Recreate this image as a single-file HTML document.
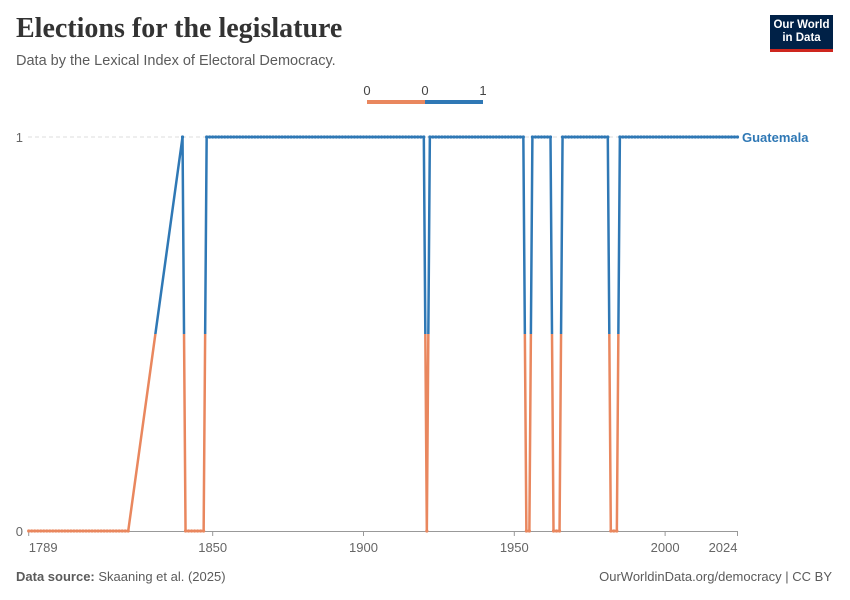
<!DOCTYPE html>
<html><head><meta charset="utf-8">
<style>
body{margin:0;background:#fff;font-family:"Liberation Sans",sans-serif;}
#wrap{position:relative;width:850px;height:600px;overflow:hidden;}
.title{position:absolute;left:16px;top:13px;font-family:"Liberation Serif",serif;font-size:28px;color:#333;font-weight:bold;}
.sub{position:absolute;left:16px;top:53px;font-size:14.5px;color:#5b5b5b;}
.logo{position:absolute;left:770px;top:15px;width:63px;height:37px;background:#002147;border-bottom:3px solid #ce261e;color:#fff;font-size:11.5px;font-weight:bold;text-align:center;line-height:13px;padding-top:4px;box-sizing:border-box;}
.foot{position:absolute;top:569px;font-size:13px;color:#5b5b5b;}
</style></head><body>
<div id="wrap">
<div class="title">Elections for the legislature</div>
<div class="sub">Data by the Lexical Index of Electoral Democracy.</div>
<div class="logo">Our World<br>in Data</div>
<svg id="chart" width="850" height="600" style="position:absolute;left:0;top:0"></svg>
<div class="foot" style="left:16px"><b>Data source:</b> Skaaning et al. (2025)</div>
<div class="foot" style="right:18px">OurWorldinData.org/democracy | CC BY</div>
</div>
<script>
// runs of [startYear, endYear, value]
const runStarts = [1789, 1840, 1841, 1848, 1921, 1922, 1954, 1956, 1963, 1966, 1982, 1985];
const runEnds   = [1822, 1840, 1847, 1920, 1921, 1953, 1955, 1962, 1965, 1981, 1984, 2024];
const runValues = [0, 1, 0, 1, 0, 1, 0, 1, 0, 1, 0, 1];
const xTicks = [1789, 1850, 1900, 1950, 2000, 2024];
const yTicks = [0, 1];

const NS = "http://www.w3.org/2000/svg";
const svg = document.getElementById('chart');
const x0 = 28.7, x1 = 737.5, yTop = 137, yBot = 531;
const xS = y => x0 + (y - 1789) / (2024 - 1789) * (x1 - x0);
const yS = v => yBot - v * (yBot - yTop);
function mk(tag, attrs, parent) { const e = document.createElementNS(NS, tag); for (const k in attrs) e.setAttribute(k, attrs[k]); (parent || svg).appendChild(e); return e; }

const pts = [];
for (let i = 0; i < runStarts.length; i++) for (let y = runStarts[i]; y <= runEnds[i]; y++) pts.push([y, runValues[i]]);

yTicks.forEach(t => {
  if (t > 0) {
    const g = mk('line', {x1: 28, x2: x1, y1: yS(t), y2: yS(t), stroke: '#ddd', 'stroke-dasharray': '4,3'});
    
    
  }
  const tx = mk('text', {x: 23, y: yS(t) + 5, 'text-anchor': 'end', 'font-size': 13, fill: '#666'});
  tx.textContent = t;
  
  
});
const ax = mk('line', {x1: 28, x2: x1, y1: yBot + 0.5, y2: yBot + 0.5, stroke: '#999'});


xTicks.forEach((t, i) => {
  const tk = mk('line', {x1: xS(t), x2: xS(t), y1: yBot, y2: yBot + 5, stroke: '#999'});
  
  
  const anchor = i === 0 ? 'start' : (i === xTicks.length - 1 ? 'end' : 'middle');
  const tx = mk('text', {x: xS(t), y: 552, 'text-anchor': anchor, 'font-size': 13, fill: '#666'});
  tx.textContent = t;
  
  
});

const defs = mk('defs', {});
const cA = mk('clipPath', {id: 'ca'}, defs); mk('rect', {x: 0, y: 0, width: 850, height: yS(0.5)}, cA);
const cB = mk('clipPath', {id: 'cb'}, defs); mk('rect', {x: 0, y: yS(0.5), width: 850, height: 300}, cB);
const d = pts.map((p, i) => (i ? 'L' : 'M') + xS(p[0]).toFixed(2) + ',' + yS(p[1]).toFixed(2)).join('');
[['cb', '#e9875e'], ['ca', '#2f78b5']].forEach(([c, col]) => {
  const g = mk('g', {'clip-path': 'url(#' + c + ')'});
  
  
  mk('path', {d: d, fill: 'none', stroke: col, 'stroke-width': 2.5, 'stroke-linejoin': 'round'}, g);
  pts.forEach(p => {
    const cc = mk('circle', {cx: xS(p[0]), cy: yS(p[1]), r: 1.6, fill: col}, g);
    
    
  });
});
const lab = mk('text', {x: 742, y: yS(1) + 5, 'font-size': 13, 'font-weight': 'bold', fill: '#2f78b5'});
lab.textContent = 'Guatemala';



const lg = mk('g', {});


mk('rect', {x: 367, y: 100, width: 58, height: 4, fill: '#e9875e'}, lg);
mk('rect', {x: 425, y: 100, width: 58, height: 4, fill: '#2f78b5'}, lg);
[[367, '0'], [425, '0'], [483, '1']].forEach(([lx, t]) => {
  const tx = mk('text', {x: lx, y: 95, 'text-anchor': 'middle', 'font-size': 13, fill: '#444'}, lg);
  tx.textContent = t;
  
  
});
</script>
</body></html>
